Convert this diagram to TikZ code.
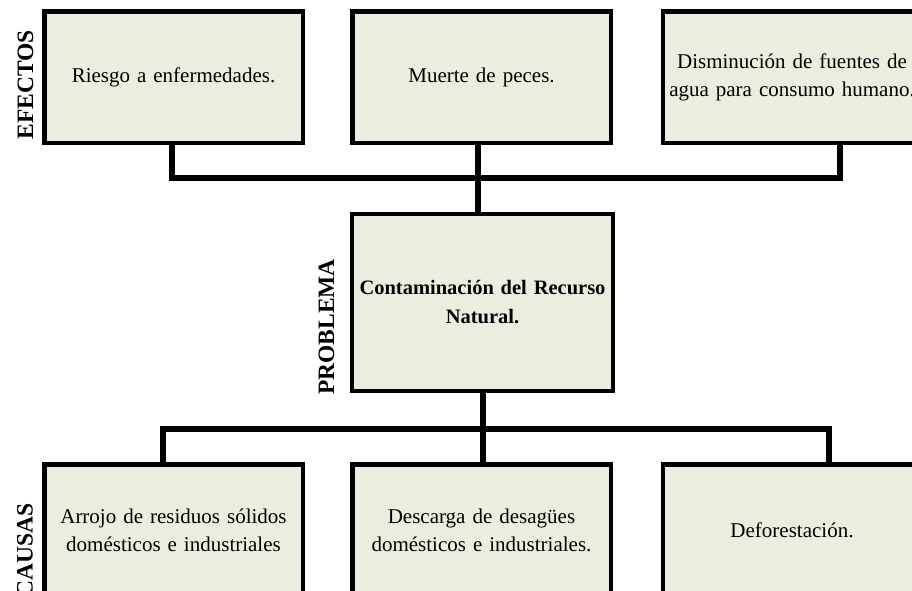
\documentclass[tikz,border=0pt]{standalone}
\usepackage{fontspec}
\setmainfont{Liberation Serif}
\usetikzlibrary{backgrounds}
\definecolor{boxfill}{RGB}{235,238,222}
\begin{document}
\begin{tikzpicture}[x=1pt,y=-1pt,
  box/.style={draw=black, line width=4.5pt, fill=boxfill, minimum width=258.5pt,
    minimum height=131.5pt, inner sep=0pt, text width=252pt, align=center,
    font=\fontsize{21}{28}\selectfont},
  probbox/.style={box, minimum width=261pt, minimum height=177pt,
    font=\bfseries\fontsize{20.5}{29}\selectfont},
  conn/.style={line width=6pt, line join=miter, draw=black},
  connshadow/.style={line width=6pt, line join=miter, draw=black!18},
  lbl/.style={rotate=90, inner sep=0pt, font=\bfseries\fontsize{23.5}{27}\selectfont}]
\useasboundingbox (0,0) rectangle (912,590);
\clip (0,0) rectangle (912,590);

% effects
\node[box] (e1) at (173.5,77) {Riesgo a enfermedades.};
\node[box] (e2) at (481.5,77) {Muerte de peces.};
\node[box] (e3) at (792,77) {Disminución de fuentes de\\agua para consumo humano.};

% problem
\node[probbox] (p) at (482.5,302.5) {Contaminación del Recurso\\Natural.};

% causes
\node[box] (c1) at (173.5,530) {Arrojo de residuos sólidos\\domésticos e industriales};
\node[box] (c2) at (481.5,530) {Descarga de desagües\\domésticos e industriales.};
\node[box] (c3) at (792,530) {Deforestación.};

% labels
\node[lbl] (le) at (25.5,85) {EFECTOS};
\node[lbl] (lp) at (326.5,327) {PROBLEMA};
\node[lbl] (lc) at (25,550) {CAUSAS};

% junctions
\coordinate (t1) at (172,178);
\coordinate (t2) at (478,178);
\coordinate (t3) at (840,178);
\coordinate (b1) at (163,429);
\coordinate (b2) at (483,429);
\coordinate (b3) at (829,429);

\begin{scope}[on background layer]
  \fill[white] (0,0) rectangle (912,590);
  \begin{scope}[shift={(1.5,3)}]
    \draw[connshadow] (t1 |- e1) -- (t1) -- (t3) -- (t3 |- e3);
    \draw[connshadow] (b1 |- c1) -- (b1) -- (b3) -- (b3 |- c3);
  \end{scope}
  \draw[conn] (t1 |- e1) -- (t1) -- (t3) -- (t3 |- e3);
  \draw[conn] (t2 |- e2) -- (t2 |- p);
  \draw[conn] (b1 |- c1) -- (b1) -- (b3) -- (b3 |- c3);
  \draw[conn] (b2 |- p) -- (b2 |- c2);
\end{scope}
\end{tikzpicture}
\end{document}
